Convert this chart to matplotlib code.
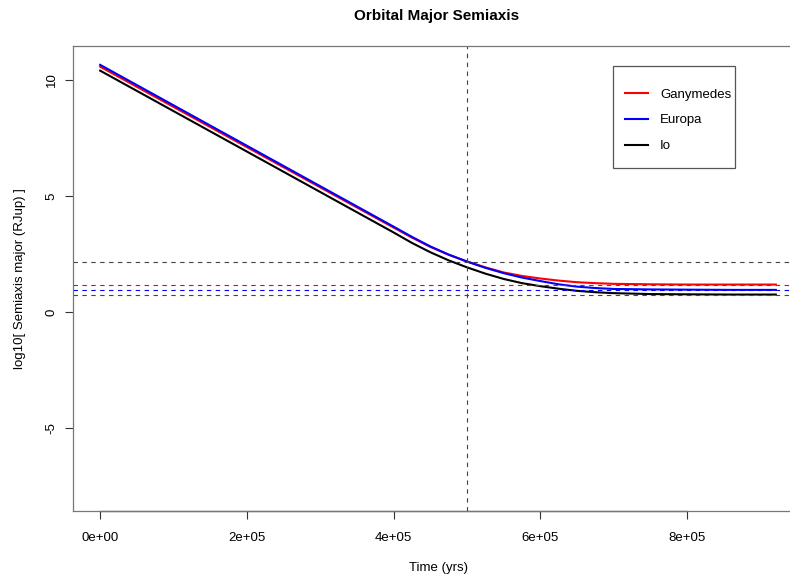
import numpy as np
import matplotlib.pyplot as plt
from matplotlib.patches import Rectangle

plt.rcParams['font.family'] = ['Liberation Sans', 'DejaVu Sans']

# time (yrs) and log10 semiaxis
time = [0, 1e5, 2e5, 3e5, 4e5, 4.25e5, 4.5e5, 4.75e5, 5e5, 5.25e5, 5.5e5,
        5.75e5, 6e5, 6.25e5, 6.5e5, 6.75e5, 7e5, 7.5e5, 8e5, 8.6e5, 9.21e5]
ganymedes = [10.56, 8.83, 7.10, 5.37, 3.64, 3.21, 2.81, 2.47, 2.18, 1.93, 1.71,
             1.56, 1.45, 1.36, 1.29, 1.25, 1.22, 1.20, 1.19, 1.19, 1.19]
europa = [10.64, 8.90, 7.16, 5.42, 3.68, 3.24, 2.83, 2.48, 2.18, 1.91, 1.68,
          1.49, 1.34, 1.20, 1.10, 1.04, 1.00, 0.98, 0.97, 0.96, 0.96]
io = [10.39, 8.65, 6.91, 5.17, 3.43, 2.98, 2.58, 2.23, 1.93, 1.66, 1.43,
      1.25, 1.12, 1.01, 0.92, 0.86, 0.82, 0.78, 0.77, 0.76, 0.76]

# reference lines
hlines = [2.16, 1.19, 0.96, 0.76]
hcolors = ['#444444', 'red', 'blue', '#444444']
t_mark = 5e5

fig = plt.figure(figsize=(7.9, 5.75), dpi=100)
ax = fig.add_axes([73/790, 64/575, 730/790, 465/575])

ax.plot(time, ganymedes, color='red', lw=1.5, label='Ganymedes')
ax.plot(time, europa, color='blue', lw=1.5, label='Europa')
ax.plot(time, io, color='black', lw=1.5, label='Io')

for y, c in zip(hlines, hcolors):
    ax.axhline(y, color=c, lw=0.8, linestyle=(0, (4, 4)))
ax.axvline(t_mark, color='#444444', lw=0.8, linestyle=(0, (4, 4)))

ax.set_xlim(-37000, 958000)
ax.set_ylim(-8.55, 11.45)

ax.set_xticks([0, 2e5, 4e5, 6e5, 8e5])
ax.set_xticklabels(['0e+00', '2e+05', '4e+05', '6e+05', '8e+05'])
ax.set_yticks([-5, 0, 5, 10])
ax.set_yticklabels(['-5', '0', '5', '10'], rotation=90, va='center')
ax.tick_params(axis='both', length=6, width=0.8, labelsize=9.5, color='#333333')
ax.tick_params(axis='x', pad=9)
ax.tick_params(axis='y', pad=5)

for s in ax.spines.values():
    s.set_color('#777777')
    s.set_linewidth(0.9)
ax.spines['right'].set_visible(False)
ax.plot([0, 8e5], [-8.55, -8.55], color='#222222', lw=0.9, clip_on=False)

ax.set_xlabel('Time (yrs)', fontsize=9.5, labelpad=13)
ax.set_ylabel('log10[ Semiaxis major (RJup) ]', fontsize=9.5, labelpad=14)
fig.text(0.553, 0.972, 'Orbital Major Semiaxis', ha='center', va='center',
         fontsize=11, fontweight='bold')

# legend, R style box
fig.patches.append(Rectangle((613/790, 1 - 168/575), 122/790, 102/575,
                             transform=fig.transFigure, fill=False,
                             edgecolor='#555555', lw=0.9))
leg = ax.legend(loc='upper left', bbox_to_anchor=(625/790, 1 - 88.5/575),
                bbox_transform=fig.transFigure, fontsize=9.5, frameon=False,
                borderpad=0, labelspacing=1.02, handlelength=1.75,
                handletextpad=0.9, borderaxespad=0)

fig.savefig('out.png', dpi=100)
